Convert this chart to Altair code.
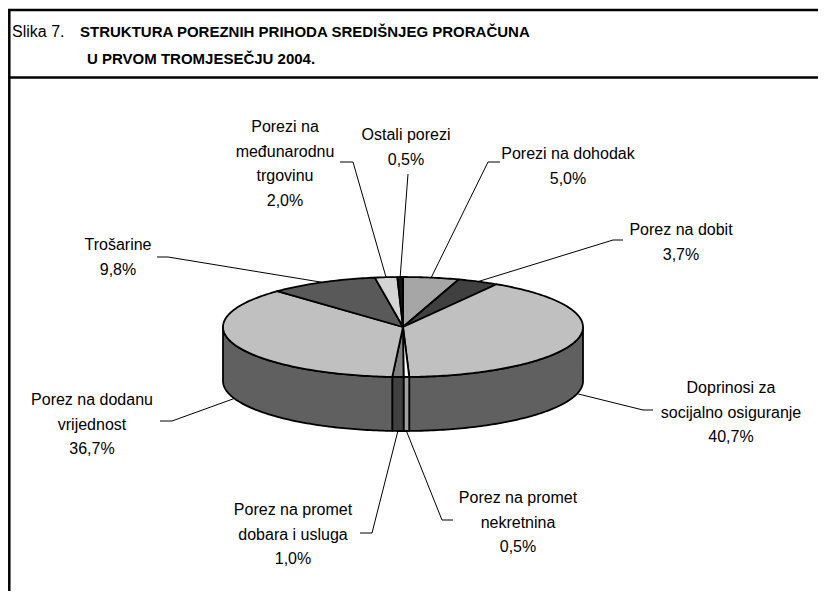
import numpy as np
import pandas as pd
import altair as alt

# ---------------- data ----------------
names = [
    "Porezi na dohodak",
    "Porez na dobit",
    "Doprinosi za socijalno osiguranje",
    "Porez na promet nekretnina",
    "Porez na promet dobara i usluga",
    "Porez na dodanu vrijednost",
    "Trošarine",
    "Porezi na međunarodnu trgovinu",
    "Ostali porezi",
]
shares = [5.0, 3.7, 40.7, 0.5, 1.0, 36.7, 9.8, 2.0, 0.5]
label_lines = [
    ["Porezi na dohodak"],
    ["Porez na dobit"],
    ["Doprinosi za", "socijalno osiguranje"],
    ["Porez na promet", "nekretnina"],
    ["Porez na promet", "dobara i usluga"],
    ["Porez na dodanu", "vrijednost"],
    ["Trošarine"],
    ["Porezi na", "međunarodnu", "trgovinu"],
    ["Ostali porezi"],
]
title_prefix = "Slika 7."
title_lines = ["STRUKTURA POREZNIH PRIHODA SREDIŠNJEG PRORAČUNA",
               "U PRVOM TROMJESEČJU 2004."]

# ---------------- style / layout ----------------
top_colors = ["#a6a6a6", "#404040", "#c0c0c0", "#ffffff", "#808080",
              "#c0c0c0", "#595959", "#d4d4d4", "#141414"]
side_colors = ["#535353", "#202020", "#606060", "#a0a0a0", "#404040",
               "#606060", "#2c2c2c", "#6a6a6a", "#0a0a0a"]
label_pos = [(568, 154), (681, 230), (731, 388), (518, 498), (293, 510),
             (92, 400), (118, 245), (285, 127), (406, 135)]
elbows = [[(488, 162), (500, 162)], [(613, 240), (623, 240)],
          [(643, 410), (653, 410)], [(442, 520), (453, 520)],
          [(372, 533), (360, 533)], [(172, 421), (160, 421)],
          [(168, 257), (157, 257)], [(353, 162), (340, 162)],
          [(408, 174)]]
LINE_H = 24.5
FONT = "Liberation Sans"
cx, cy, ra, rb, depth = 403.0, 327.0, 180.0, 50.0, 54.0

total = sum(shares)
cum = np.concatenate([[0.0], np.cumsum(shares)]) / total * 360.0


def ell(t, dy=0.0):
    r = np.radians(t)
    return cx + ra * np.sin(r), cy - rb * np.cos(r) + dy


top_rows, side_rows, lead_rows, text_rows = [], [], [], []
for i in range(len(names)):
    t1, t2 = cum[i], cum[i + 1]
    n = max(3, int(np.ceil(t2 - t1)) + 1)
    ts = np.linspace(t1, t2, n)
    pts = [(cx, cy)] + [ell(t) for t in ts] + [(cx, cy)]
    for k, (x, y) in enumerate(pts):
        top_rows.append(dict(pid=i, k=k, x=x, y=y, fillc=top_colors[i]))
    lo, hi = max(t1, 90.0), min(t2, 270.0)
    if hi > lo:
        n = max(3, int(np.ceil(hi - lo)) + 1)
        ts = np.linspace(lo, hi, n)
        up = [ell(t) for t in ts]
        dn = [ell(t, depth) for t in ts[::-1]]
        pts = up + dn + [up[0]]
        for k, (x, y) in enumerate(pts):
            side_rows.append(dict(pid=i, k=k, x=x, y=y, fillc=side_colors[i]))
    # leader
    tm = (t1 + t2) / 2
    ax, ay = ell(tm, depth if 90 < tm < 270 else 0.0)
    for k, (x, y) in enumerate([(ax, ay)] + elbows[i]):
        lead_rows.append(dict(lid=i, k=k, x=x, y=y))
    # label
    pct = f"{shares[i]:.1f}".replace(".", ",") + "%"
    lx, ly = label_pos[i]
    for j, s in enumerate(label_lines[i] + [pct]):
        text_rows.append(dict(x=lx, y=ly + j * LINE_H, text=s))

top_df = pd.DataFrame(top_rows)
side_df = pd.DataFrame(side_rows)
lead_df = pd.DataFrame(lead_rows)
text_df = pd.DataFrame(text_rows)
frame_df = pd.DataFrame([
    dict(x=8, x2=818, y=10, y2=10),
    dict(x=8, x2=818, y=77.5, y2=77.5),
    dict(x=9.3, x2=9.3, y=9, y2=591),
])
title_df = pd.DataFrame([
    dict(x=12, y=32, text=title_prefix, w="normal"),
    dict(x=80, y=32, text=title_lines[0], w="bold"),
    dict(x=87, y=59, text=title_lines[1], w="bold"),
])

xs = alt.Scale(domain=[8, 818])
ys = alt.Scale(domain=[591, 8])


def X(f="x"):
    return alt.X(f"{f}:Q", scale=xs, axis=None)


def Y(f="y"):
    return alt.Y(f"{f}:Q", scale=ys, axis=None)


frame = alt.Chart(frame_df).mark_rule(color="black", strokeWidth=2.5).encode(
    x=X(), x2="x2:Q", y=Y(), y2="y2:Q")

leaders = alt.Chart(lead_df).mark_line(color="black", strokeWidth=1).encode(
    x=X(), y=Y(), detail="lid:N", order="k:Q")

sides = alt.Chart(side_df).mark_line(stroke="black", strokeWidth=1.8,
                                     strokeJoin="round").encode(
    x=X(), y=Y(), detail="pid:N", order="k:Q",
    fill=alt.Fill("fillc:N", scale=None))

tops = alt.Chart(top_df).mark_line(stroke="black", strokeWidth=1.8,
                                   strokeJoin="round").encode(
    x=X(), y=Y(), detail="pid:N", order="k:Q",
    fill=alt.Fill("fillc:N", scale=None))

labels = alt.Chart(text_df).mark_text(font=FONT, fontSize=16, color="black",
                                      align="center", baseline="middle").encode(
    x=X(), y=Y(), text="text:N")

title_normal = alt.Chart(title_df[title_df.w == "normal"]).mark_text(
    font=FONT, fontSize=16, align="left", baseline="middle", color="black").encode(
    x=X(), y=Y(), text="text:N")
title_bold = alt.Chart(title_df[title_df.w == "bold"]).mark_text(
    font=FONT, fontSize=15, fontWeight="bold", align="left",
    baseline="middle", color="black").encode(
    x=X(), y=Y(), text="text:N")

chart = alt.layer(frame, leaders, sides, tops, labels, title_normal, title_bold).properties(
    width=810, height=583, padding=0, autosize=alt.AutoSizeParams(type="none")
).configure_view(stroke=None)

chart.save("out.html", embed_options={"renderer": "svg", "actions": False})
